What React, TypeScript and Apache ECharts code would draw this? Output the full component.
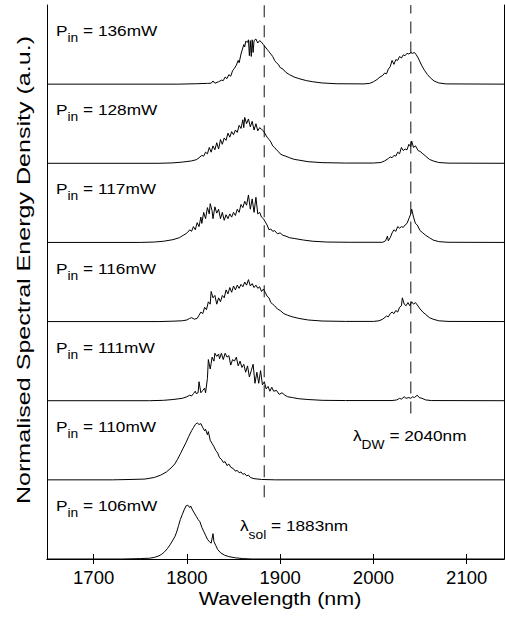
import React, { useEffect, useRef } from "react";
import * as echarts from "echarts";

// Input powers (mW), top panel first
const powers = [136, 128, 117, 116, 111, 110, 106];

// Spectra: [wavelength nm, normalised value within its panel]
const p136: [number, number][] = [
  [1650, 0], [1790, 0], [1810, 0.005], [1822, 0.01], [1826, 0.012], [1828, 0.04], [1830, 0.012], [1834, 0.03],
  [1837, 0.05], [1839, 0.045], [1841, 0.09], [1843, 0.07], [1845, 0.12], [1847, 0.1], [1849, 0.17], [1851, 0.2],
  [1853, 0.24], [1855, 0.3], [1856, 0.27], [1858, 0.38], [1859, 0.42], [1861, 0.5], [1862, 0.47], [1863, 0.54],
  [1865, 0.53], [1866, 0.56], [1867, 0.36], [1868, 0.55], [1869, 0.35], [1870, 0.56], [1871, 0.4], [1872, 0.55],
  [1874, 0.57], [1876, 0.52], [1878, 0.55], [1880, 0.53], [1882, 0.5], [1884, 0.47], [1886, 0.44], [1888, 0.41],
  [1890, 0.38], [1892, 0.35], [1894, 0.3], [1896, 0.27], [1898, 0.25], [1900, 0.21], [1903, 0.19], [1906, 0.15],
  [1910, 0.12], [1915, 0.09], [1920, 0.07], [1928, 0.045], [1935, 0.03], [1945, 0.015], [1960, 0.005], [1990, 0.003],
  [1996, 0.01], [2000, 0.03], [2004, 0.06], [2007, 0.09], [2010, 0.11], [2012, 0.14], [2014, 0.13], [2016, 0.19],
  [2018, 0.22], [2020, 0.3], [2022, 0.25], [2024, 0.31], [2026, 0.3], [2028, 0.35], [2030, 0.33], [2032, 0.37],
  [2034, 0.36], [2036, 0.39], [2038, 0.38], [2040, 0.4], [2042, 0.39], [2044, 0.4], [2046, 0.37], [2048, 0.33],
  [2050, 0.28], [2052, 0.23], [2055, 0.17], [2058, 0.12], [2061, 0.08], [2065, 0.04], [2070, 0.015], [2078, 0.003],
  [2140, 0],
];

const p128: [number, number][] = [
  [1650, 0], [1770, 0], [1785, 0.005], [1795, 0.015], [1805, 0.03], [1810, 0.045], [1813, 0.07], [1816, 0.1],
  [1818, 0.09], [1820, 0.14], [1822, 0.12], [1824, 0.2], [1826, 0.14], [1828, 0.22], [1830, 0.17], [1832, 0.26],
  [1834, 0.18], [1836, 0.3], [1838, 0.24], [1840, 0.32], [1842, 0.29], [1844, 0.38], [1846, 0.33], [1848, 0.4],
  [1850, 0.36], [1852, 0.42], [1854, 0.39], [1856, 0.48], [1858, 0.44], [1860, 0.55], [1861, 0.45], [1862, 0.58],
  [1864, 0.5], [1866, 0.56], [1868, 0.46], [1870, 0.53], [1872, 0.42], [1874, 0.5], [1876, 0.41], [1878, 0.45],
  [1880, 0.43], [1882, 0.41], [1884, 0.37], [1886, 0.33], [1888, 0.3], [1890, 0.27], [1892, 0.22], [1894, 0.2],
  [1896, 0.17], [1898, 0.15], [1900, 0.12], [1903, 0.1], [1906, 0.09], [1910, 0.07], [1915, 0.05], [1920, 0.04],
  [1930, 0.02], [1945, 0.008], [1970, 0.003], [2000, 0.003], [2008, 0.01], [2012, 0.03], [2016, 0.06], [2018, 0.08],
  [2020, 0.07], [2022, 0.1], [2024, 0.09], [2026, 0.14], [2028, 0.12], [2030, 0.2], [2032, 0.16], [2034, 0.18],
  [2036, 0.17], [2038, 0.24], [2040, 0.21], [2041, 0.28], [2043, 0.2], [2045, 0.22], [2048, 0.16], [2050, 0.15],
  [2053, 0.12], [2056, 0.09], [2060, 0.05], [2064, 0.03], [2070, 0.01], [2080, 0.002], [2140, 0],
];

const p117: [number, number][] = [
  [1650, 0], [1750, 0], [1765, 0.005], [1775, 0.015], [1785, 0.035], [1792, 0.06], [1796, 0.09], [1799, 0.11],
  [1801, 0.13], [1803, 0.16], [1805, 0.14], [1807, 0.2], [1809, 0.16], [1811, 0.25], [1813, 0.2], [1815, 0.32],
  [1816, 0.24], [1818, 0.38], [1820, 0.3], [1822, 0.44], [1824, 0.36], [1825, 0.49], [1827, 0.4], [1828, 0.3],
  [1830, 0.45], [1832, 0.37], [1834, 0.42], [1836, 0.3], [1838, 0.38], [1840, 0.28], [1842, 0.35], [1844, 0.3],
  [1846, 0.36], [1848, 0.32], [1850, 0.38], [1852, 0.34], [1854, 0.42], [1856, 0.38], [1858, 0.48], [1860, 0.44],
  [1862, 0.52], [1864, 0.47], [1866, 0.6], [1868, 0.42], [1870, 0.55], [1872, 0.38], [1874, 0.57], [1876, 0.36],
  [1878, 0.38], [1880, 0.32], [1882, 0.3], [1884, 0.26], [1886, 0.22], [1888, 0.16], [1890, 0.17], [1892, 0.14],
  [1894, 0.15], [1897, 0.11], [1900, 0.12], [1903, 0.09], [1906, 0.08], [1910, 0.06], [1915, 0.05], [1925, 0.03],
  [1935, 0.015], [1950, 0.005], [1975, 0.002], [2010, 0.002], [2013, 0.02], [2015, 0.08], [2016, 0.02], [2018, 0.06],
  [2020, 0.12], [2022, 0.16], [2024, 0.14], [2026, 0.2], [2028, 0.18], [2030, 0.2], [2032, 0.19], [2034, 0.22],
  [2036, 0.24], [2038, 0.3], [2040, 0.36], [2041, 0.42], [2043, 0.32], [2045, 0.24], [2047, 0.22], [2050, 0.15],
  [2053, 0.12], [2056, 0.09], [2060, 0.06], [2064, 0.03], [2070, 0.01], [2080, 0.002], [2140, 0],
];

const p116: [number, number][] = [
  [1650, 0], [1770, 0], [1785, 0.005], [1795, 0.01], [1800, 0.02], [1803, 0.04], [1805, 0.05], [1808, 0.03],
  [1811, 0.04], [1813, 0.08], [1815, 0.12], [1817, 0.1], [1819, 0.18], [1821, 0.15], [1823, 0.25], [1825, 0.22],
  [1826, 0.38], [1828, 0.3], [1830, 0.33], [1832, 0.22], [1834, 0.3], [1836, 0.25], [1838, 0.33], [1840, 0.3],
  [1842, 0.4], [1844, 0.35], [1846, 0.43], [1848, 0.37], [1850, 0.45], [1852, 0.4], [1854, 0.46], [1856, 0.42],
  [1858, 0.47], [1860, 0.44], [1862, 0.5], [1864, 0.46], [1866, 0.53], [1868, 0.45], [1870, 0.48], [1872, 0.43],
  [1874, 0.46], [1876, 0.42], [1878, 0.44], [1880, 0.38], [1882, 0.41], [1884, 0.37], [1886, 0.32], [1888, 0.3],
  [1890, 0.24], [1892, 0.22], [1894, 0.2], [1897, 0.16], [1900, 0.14], [1904, 0.1], [1908, 0.08], [1913, 0.06],
  [1920, 0.04], [1930, 0.02], [1945, 0.007], [1970, 0.002], [2000, 0.002], [2006, 0.01], [2010, 0.03], [2014, 0.07],
  [2016, 0.06], [2018, 0.1], [2020, 0.12], [2022, 0.1], [2024, 0.14], [2026, 0.12], [2028, 0.18], [2030, 0.2],
  [2031, 0.3], [2033, 0.22], [2035, 0.2], [2037, 0.24], [2039, 0.2], [2041, 0.25], [2043, 0.22], [2045, 0.24],
  [2047, 0.21], [2050, 0.16], [2053, 0.12], [2056, 0.09], [2060, 0.05], [2064, 0.03], [2070, 0.01], [2080, 0.002],
  [2140, 0],
];

const p111: [number, number][] = [
  [1650, 0], [1760, 0], [1775, 0.005], [1785, 0.015], [1795, 0.03], [1800, 0.05], [1803, 0.07], [1805, 0.06],
  [1807, 0.09], [1809, 0.12], [1810, 0.09], [1812, 0.1], [1813, 0.24], [1815, 0.1], [1817, 0.13], [1819, 0.16],
  [1820, 0.1], [1822, 0.28], [1823, 0.52], [1825, 0.4], [1826, 0.47], [1827, 0.55], [1829, 0.5], [1830, 0.6],
  [1832, 0.56], [1834, 0.59], [1835, 0.53], [1837, 0.6], [1839, 0.52], [1841, 0.6], [1843, 0.55], [1845, 0.57],
  [1847, 0.45], [1849, 0.52], [1851, 0.5], [1853, 0.55], [1855, 0.44], [1857, 0.5], [1859, 0.42], [1861, 0.46],
  [1863, 0.36], [1865, 0.44], [1867, 0.3], [1869, 0.38], [1871, 0.46], [1873, 0.22], [1875, 0.36], [1877, 0.22],
  [1879, 0.38], [1881, 0.2], [1883, 0.24], [1885, 0.15], [1887, 0.18], [1889, 0.12], [1891, 0.17], [1893, 0.12],
  [1896, 0.13], [1899, 0.08], [1902, 0.1], [1905, 0.07], [1908, 0.05], [1913, 0.04], [1920, 0.025], [1930, 0.015],
  [1945, 0.005], [1970, 0.002], [2020, 0.002], [2025, 0.01], [2028, 0.03], [2030, 0.02], [2033, 0.05], [2035, 0.03],
  [2038, 0.04], [2040, 0.03], [2042, 0.05], [2044, 0.04], [2047, 0.07], [2049, 0.04], [2052, 0.03], [2056, 0.01],
  [2062, 0.002], [2140, 0],
];

const p110: [number, number][] = [
  [1650, 0], [1720, 0], [1740, 0.005], [1755, 0.01], [1765, 0.03], [1772, 0.06], [1778, 0.1], [1783, 0.15],
  [1787, 0.2], [1790, 0.26], [1793, 0.33], [1796, 0.4], [1799, 0.47], [1802, 0.55], [1805, 0.62], [1807, 0.66],
  [1809, 0.7], [1811, 0.72], [1813, 0.7], [1815, 0.71], [1817, 0.66], [1819, 0.62], [1820, 0.64], [1822, 0.57],
  [1823, 0.61], [1825, 0.5], [1827, 0.46], [1829, 0.42], [1831, 0.37], [1833, 0.34], [1835, 0.28], [1837, 0.26],
  [1839, 0.22], [1841, 0.23], [1843, 0.18], [1845, 0.2], [1847, 0.16], [1850, 0.14], [1852, 0.11], [1854, 0.12],
  [1856, 0.09], [1858, 0.1], [1860, 0.07], [1862, 0.08], [1864, 0.05], [1866, 0.06], [1868, 0.03], [1872, 0.015],
  [1880, 0.005], [1895, 0], [2140, 0],
];

const p106: [number, number][] = [
  [1650, 0], [1730, 0], [1750, 0.005], [1760, 0.01], [1765, 0.02], [1770, 0.04], [1773, 0.06], [1776, 0.09],
  [1779, 0.13], [1782, 0.18], [1785, 0.24], [1787, 0.28], [1789, 0.34], [1791, 0.42], [1793, 0.5], [1795, 0.56],
  [1797, 0.62], [1799, 0.67], [1801, 0.68], [1803, 0.65], [1804, 0.67], [1806, 0.62], [1808, 0.58], [1810, 0.54],
  [1812, 0.5], [1814, 0.47], [1816, 0.4], [1818, 0.35], [1820, 0.3], [1822, 0.25], [1824, 0.22], [1826, 0.2],
  [1828, 0.32], [1829, 0.22], [1831, 0.17], [1833, 0.12], [1836, 0.08], [1840, 0.05], [1845, 0.03], [1852, 0.015],
  [1860, 0.005], [1870, 0], [2140, 0],
];

const spectra = [p136, p128, p117, p116, p111, p110, p106];

const xTicks = [1700, 1800, 1900, 2000, 2100];
const xMin = 1650;
const xMax = 2140;

// Marker wavelengths and the (panel-unit) height where each dashed line ends
const solWavelength = 1883;
const solLineBottom = 0.78;
const dwWavelength = 2040;
const dwLineBottom = 1.84;

const xTitle = "Wavelength (nm)";
const yTitle = "Normalised Spectral Energy Density (a.u.)";

const FONT = "'Liberation Sans', Arial, Helvetica, sans-serif";

export default function App() {
  const ref = useRef<HTMLDivElement>(null);

  useEffect(() => {
    const chart = echarts.init(ref.current!, null, { renderer: "svg" });
    const H = 620;
    const gridTop = 5;
    const gridBottom = 61;
    const gridLeft = 47;
    const gridRight = 1;
    const n = spectra.length;
    const panelH = (H - gridTop - gridBottom) / n;

    const lineSeries: any[] = spectra.map((s, i) => ({
      type: "line",
      data: s.map(([x, y]) => [x, y + (n - 1 - i)]),
      showSymbol: false,
      symbol: "none",
      silent: true,
      z: 3,
      lineStyle: { color: "#000", width: 1 },
    }));

    const dashStyle = { color: "#555", width: 1.4, type: [12, 8] };
    lineSeries.push({
      type: "line",
      data: [[solWavelength, solLineBottom], [solWavelength, n]],
      showSymbol: false,
      symbol: "none",
      silent: true,
      z: 2,
      lineStyle: dashStyle,
    });
    lineSeries.push({
      type: "line",
      data: [[dwWavelength, dwLineBottom], [dwWavelength, n]],
      showSymbol: false,
      symbol: "none",
      silent: true,
      z: 2,
      lineStyle: dashStyle,
    });

    const rich = {
      p: { fontSize: 15, fontFamily: FONT, color: "#000", verticalAlign: "top" },
      s: { fontSize: 12, fontFamily: FONT, color: "#000", verticalAlign: "top", padding: [9, 0, 0, 0] },
      d: { fontSize: 12, fontFamily: FONT, color: "#000", verticalAlign: "top", padding: [11, 0, 0, 0] },
    };

    const graphics: any[] = powers.map((p, i) => ({
      type: "text",
      x: 56,
      y: gridTop + i * panelH + 18,
      scaleX: 1.15,
      silent: true,
      style: {
        text: `{p|P}{s|in}{p| = ${p}mW}`,
        rich,
        verticalAlign: "top",
        align: "left",
      },
    }));
    graphics.push({
      type: "text",
      x: 353,
      y: 428,
      scaleX: 1.15,
      silent: true,
      style: { text: `{p|λ}{d|DW}{p| = ${dwWavelength}nm}`, rich, verticalAlign: "top", align: "left" },
    });
    graphics.push({
      type: "text",
      x: 240,
      y: 518,
      scaleX: 1.15,
      silent: true,
      style: { text: `{p|λ}{d|sol}{p| = ${solWavelength}nm}`, rich, verticalAlign: "top", align: "left" },
    });
    graphics.push({
      type: "text",
      x: 280,
      y: 598,
      scaleX: 1.13,
      silent: true,
      style: {
        text: xTitle,
        fontSize: 19,
        fontFamily: FONT,
        fill: "#000",
        align: "center",
        verticalAlign: "middle",
      },
    });
    graphics.push({
      type: "text",
      x: 24,
      y: 270,
      rotation: Math.PI / 2,
      scaleX: 1.32,
      silent: true,
      style: {
        text: yTitle,
        fontSize: 19,
        fontFamily: FONT,
        fill: "#000",
        align: "center",
        verticalAlign: "middle",
      },
    });

    chart.setOption({
      animation: false,
      backgroundColor: "#fff",
      grid: { left: gridLeft, right: gridRight, top: gridTop, bottom: gridBottom },
      xAxis: [
        {
          type: "value",
          min: xMin,
          max: xMax,
          position: "bottom",
          axisLine: { show: true, lineStyle: { color: "#000", width: 1 } },
          axisTick: { show: true, inside: true, length: 5, customValues: xTicks, lineStyle: { color: "#000" } },
          axisLabel: {
            show: true,
            customValues: xTicks,
            formatter: (v: number) => String(v),
            color: "#000",
            fontSize: 18.5,
            fontFamily: FONT,
            margin: 9,
          },
          splitLine: { show: false },
        },
        {
          type: "value",
          min: xMin,
          max: xMax,
          position: "top",
          axisLine: { show: true, lineStyle: { color: "#000", width: 1 } },
          axisTick: { show: true, inside: true, length: 5, customValues: xTicks, lineStyle: { color: "#000" } },
          axisLabel: { show: false },
          splitLine: { show: false },
        },
      ],
      yAxis: [
        {
          type: "value",
          min: 0,
          max: n,
          position: "left",
          axisLine: { show: true, lineStyle: { color: "#000", width: 1 } },
          axisTick: { show: false },
          axisLabel: { show: false },
          splitLine: { show: false },
        },
        {
          type: "value",
          min: 0,
          max: n,
          position: "right",
          axisLine: { show: true, lineStyle: { color: "#000", width: 1 } },
          axisTick: { show: false },
          axisLabel: { show: false },
          splitLine: { show: false },
        },
      ],
      series: lineSeries,
      graphic: graphics,
    });

    return () => chart.dispose();
  }, []);

  return (
    <div
      ref={ref}
      style={{ position: "fixed", left: 0, top: 0, width: 505, height: 620, background: "#fff" }}
    />
  );
}
